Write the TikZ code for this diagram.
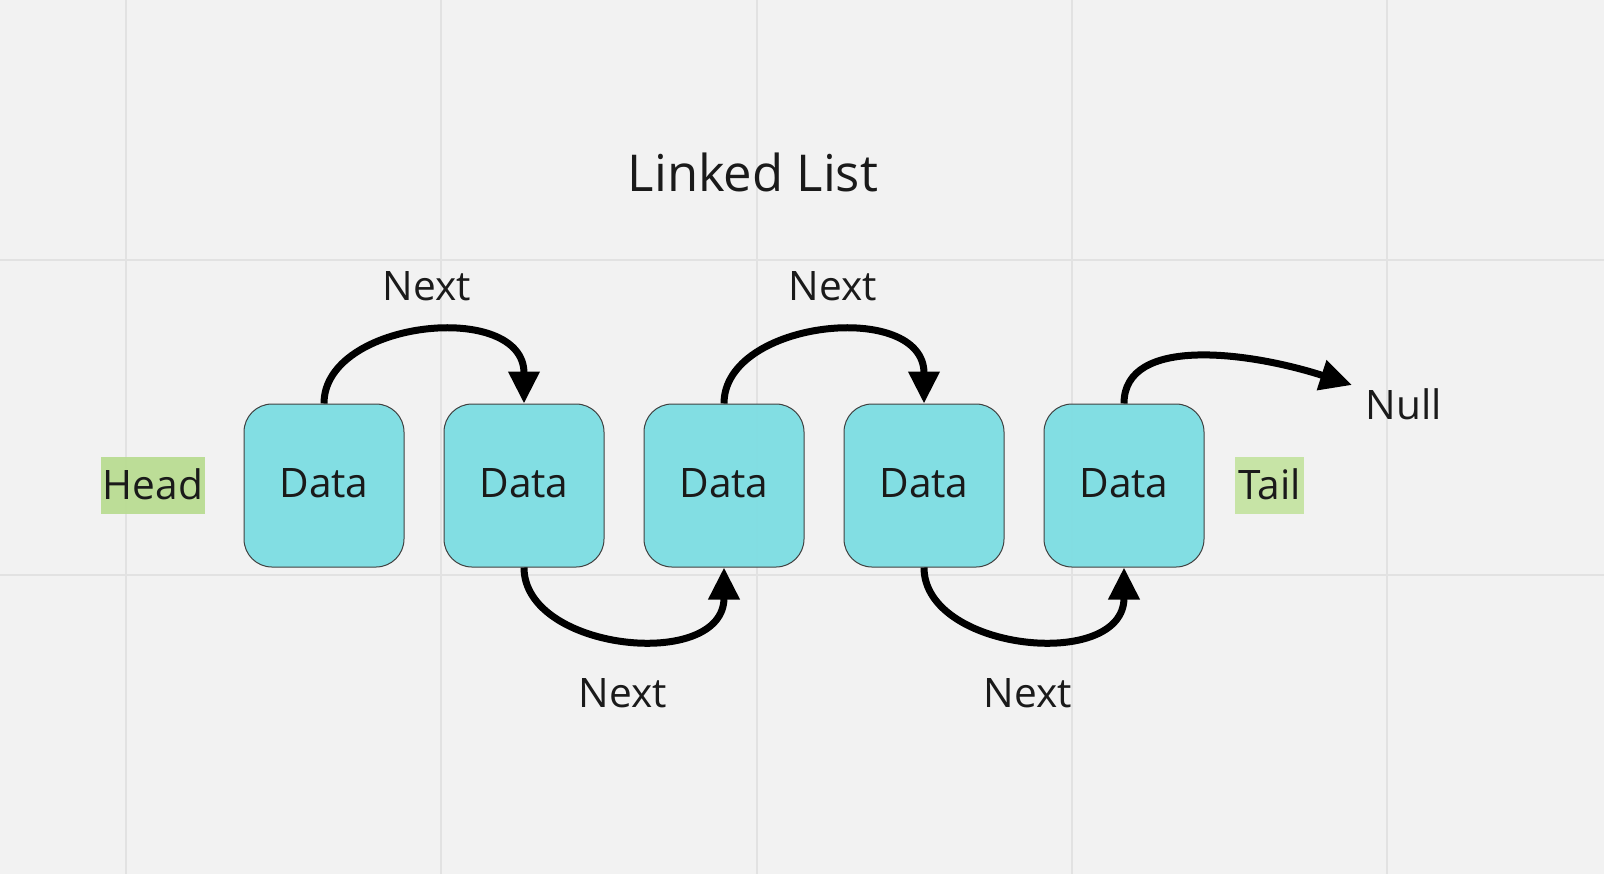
\documentclass[tikz,border=0pt]{standalone}
\usepackage{fontspec}
\setmainfont{Open Sans}
\usetikzlibrary{arrows.meta}
\definecolor{bg}{HTML}{F2F2F2}
\definecolor{gridc}{HTML}{E2E2E2}
\definecolor{boxc}{HTML}{7CDDE3}
\definecolor{txt}{HTML}{1A1A1A}
\definecolor{headc}{HTML}{B8DC90}
\definecolor{tailc}{HTML}{C4E3A0}
\begin{document}
\begin{tikzpicture}[x=0.5pt,y=-0.5pt,
  gridline/.style={draw=gridc, line width=1pt},
  databox/.style={draw=black!75, line width=0.5pt, fill=boxc, fill opacity=0.94, text opacity=1,
    rounded corners=14pt, minimum width=80pt, minimum height=81.5pt, inner sep=0pt,
    font=\fontsize{20.3}{24}\selectfont, text=txt},
  lbl/.style={font=\fontsize{20.3}{24}\selectfont, text=txt, inner sep=0pt},
  marker/.style={lbl, fill opacity=0.92, text opacity=1, minimum height=28.5pt},
  link/.style={line width=3.5pt, line cap=butt, -{Triangle[length=16pt,width=15pt]}},
]
% background
\fill[bg] (0,0) rectangle (1604,874);
\useasboundingbox (0,0) rectangle (1604,874);
% grid
\foreach \gx in {126,441,757,1072,1387} \draw[gridline] (\gx,0) -- (\gx,874);
\foreach \gy in {260,575} \draw[gridline] (0,\gy) -- (1604,\gy);

% title
\node[font=\fontsize{25.4}{30}\selectfont, text=txt, inner sep=0pt] (title) at (753,172) {Linked List};

% markers
\node[marker, fill=headc, minimum width=52pt] (head) at (153,485.5) {\raisebox{1pt}{Head}};
\node[marker, fill=tailc, minimum width=34.5pt] (tail) at (1269.5,485.5) {\raisebox{1pt}{Tail}};

% data nodes
\node[databox] (d1) at (324,485.5) {\raisebox{3pt}{Data}};
\node[databox] (d2) at (524,485.5) {\raisebox{3pt}{Data}};
\node[databox] (d3) at (724,485.5) {\raisebox{3pt}{Data}};
\node[databox] (d4) at (924,485.5) {\raisebox{3pt}{Data}};
\node[databox] (d5) at (1124,485.5) {\raisebox{3pt}{Data}};

% labels
\node[lbl] (n1) at (427,286) {Next};
\node[lbl] (n2) at (833,286) {Next};
\node[lbl] (n3) at (623,693) {Next};
\node[lbl] (n4) at (1028,693) {Next};
\node[lbl] (null) at (1404,404) {Null};
\coordinate (nulltip) at (1352,385);

% links
\draw[link] (d1.north) .. controls +(0,-84) and +(0,-104) .. (d2.north);
\draw[link] (d3.north) .. controls +(0,-84) and +(0,-104) .. (d4.north);
\draw[link] (d2.south) .. controls +(0,84) and +(0,104) .. (d3.south);
\draw[link] (d4.south) .. controls +(0,84) and +(0,104) .. (d5.south);
\draw[link] (d5.north) .. controls (1124,335) and (1250,352) .. (nulltip);
\end{tikzpicture}
\end{document}
